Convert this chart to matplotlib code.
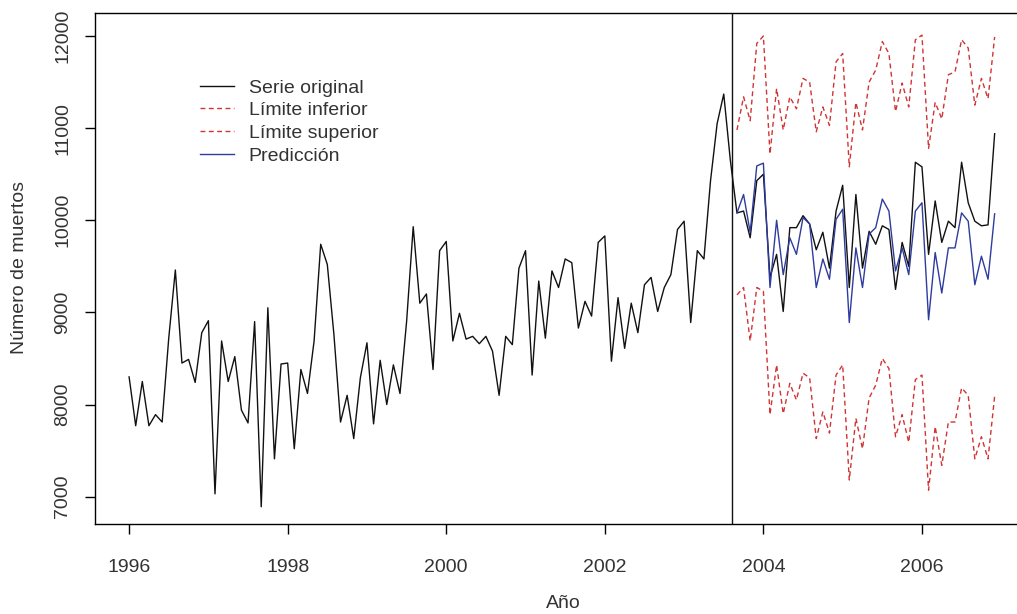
import matplotlib
matplotlib.use("Agg")
import matplotlib.pyplot as plt
import numpy as np

plt.rcParams["font.family"] = ["Liberation Sans", "DejaVu Sans"]

# serie mensual ene-1996 .. dic-2006
start_year = 1996
serie = [
    8300, 7770, 8250, 7770, 7890, 7810, 8720, 9460, 8450, 8490, 8240, 8780,
    8910, 7030, 8690, 8250, 8520, 7940, 7800, 8900, 6890, 9050, 7410, 8440,
    8450, 7520, 8380, 8120, 8690, 9740, 9520, 8760, 7810, 8100, 7630, 8290,
    8670, 7790, 8480, 8000, 8430, 8120, 8900, 9930, 9100, 9200, 8380, 9670,
    9770, 8690, 8990, 8710, 8740, 8660, 8740, 8580, 8100, 8740, 8650, 9480,
    9670, 8320, 9340, 8720, 9450, 9270, 9580, 9540, 8830, 9120, 8960, 9760,
    9830, 8470, 9160, 8610, 9100, 8780, 9300, 9380, 9010, 9270, 9410, 9900,
    9990, 8890, 9670, 9580, 10430, 11050, 11370, 10650, 10080, 10100, 9810, 10430,
    10500, 9380, 9630, 9010, 9920, 9920, 10050, 9960, 9680, 9870, 9480, 10100,
    10380, 9270, 10280, 9480, 9880, 9740, 9940, 9900, 9250, 9760, 9500, 10630,
    10580, 9630, 10210, 9760, 9990, 9920, 10630, 10190, 9990, 9940, 9950, 10940,
]

# prediccion desde sep-2003 (indice 92)
pred_start = 92
prediccion = [
    10080, 10280, 9870, 10590, 10620, 9270, 10000, 9410, 9810, 9630,
    10030, 9960, 9270, 9580, 9360, 10010, 10120, 8890, 9700, 9270,
    9850, 9920, 10230, 10100, 9450, 9700, 9410, 10100, 10190, 8920,
    9650, 9210, 9700, 9700, 10080, 9990, 9300, 9610, 9360, 10070,
]
lim_sup = [
    10980, 11340, 11080, 11920, 12000, 10720, 11430, 10980, 11340, 11210,
    11540, 11500, 10960, 11230, 11030, 11720, 11810, 10580, 11280, 10980,
    11500, 11630, 11940, 11810, 11180, 11490, 11230, 11960, 12010, 10780,
    11280, 11100, 11580, 11610, 11960, 11870, 11250, 11540, 11320, 11990,
]
lim_inf = [
    9190, 9270, 8690, 9270, 9230, 7890, 8430, 7900, 8230, 8050,
    8340, 8290, 7630, 7920, 7690, 8320, 8430, 7180, 7850, 7520,
    8070, 8210, 8500, 8390, 7650, 7890, 7590, 8270, 8320, 7070,
    7760, 7340, 7810, 7810, 8180, 8100, 7410, 7650, 7410, 8090,
]
corte = 2003.6
x_ticks = [1996, 1998, 2000, 2002, 2004, 2006]
y_ticks = [7000, 8000, 9000, 10000, 11000, 12000]

t = start_year + np.arange(len(serie)) / 12
tp = start_year + (pred_start + np.arange(len(prediccion))) / 12

fig = plt.figure(figsize=(10.17, 6.14), dpi=100)
ax = fig.add_axes([95 / 1017, 1 - 524 / 614, 934 / 1017, 511 / 614])

red = "#d03434"
blue = "#2e3c9e"
txt = "#333333"

ax.plot(t, serie, color="#111111", lw=1.0, label="Serie original")
ax.plot(tp, lim_inf, color=red, lw=1.0, ls=(0, (3.5, 2.5)), label="Límite inferior")
ax.plot(tp, lim_sup, color=red, lw=1.0, ls=(0, (3.5, 2.5)), label="Límite superior")
ax.plot(tp, prediccion, color=blue, lw=1.0, label="Predicción")
ax.axvline(corte, color="#111111", lw=1.0)

ax.set_xlim(1995.57, 2007.35)
ax.set_ylim(6703, 12250)
ax.set_xticks(x_ticks)
ax.set_yticks(y_ticks)
ax.set_xticklabels([str(v) for v in x_ticks], fontsize=14, color=txt)
ax.set_yticklabels([str(v) for v in y_ticks], fontsize=14, color=txt,
                   rotation=90, va="center")
ax.tick_params(axis="x", length=7, width=1, pad=18)
ax.tick_params(axis="y", length=7, width=1, pad=10)
for s in ax.spines.values():
    s.set_linewidth(1.0)

fig.text(563 / 1017, 1 - 603 / 614, "Año", fontsize=14,
         color=txt, ha="center", va="center")
fig.text(20 / 1017, 1 - 267 / 614, "Número de muertos", fontsize=14,
         color=txt, ha="center", va="center", rotation=90)

ax.legend(loc="upper left", bbox_to_anchor=(200 / 1017, 1 - 79 / 614),
          bbox_transform=fig.transFigure, frameon=False, fontsize=14,
          borderpad=0, borderaxespad=0, labelspacing=0.26,
          handlelength=1.75, handletextpad=0.75, labelcolor=txt)

fig.savefig("out.png", dpi=100)
